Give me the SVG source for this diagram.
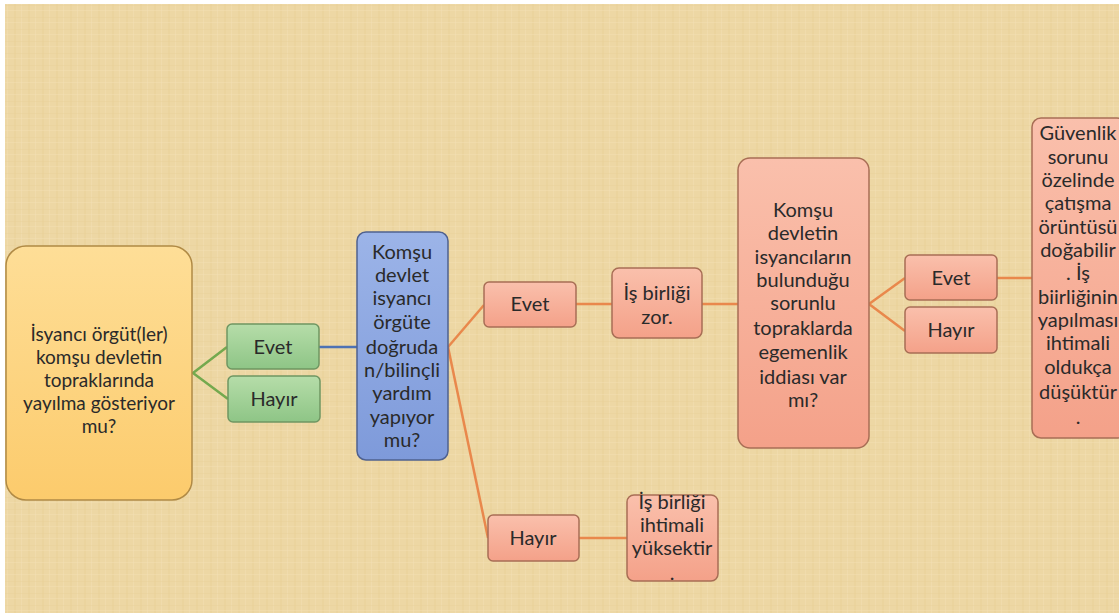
<svg xmlns="http://www.w3.org/2000/svg" width="1119" height="615" viewBox="0 0 1119 615">
<defs>
<linearGradient id="gY" x1="0" y1="0" x2="0" y2="1"><stop offset="0" stop-color="#FEDE97"/><stop offset="1" stop-color="#FCCB6C"/></linearGradient>
<linearGradient id="gG" x1="0" y1="0" x2="0" y2="1"><stop offset="0" stop-color="#B6DDA9"/><stop offset="1" stop-color="#8EC586"/></linearGradient>
<linearGradient id="gB" x1="0" y1="0" x2="0" y2="1"><stop offset="0" stop-color="#9CB4E8"/><stop offset="1" stop-color="#7E9ADA"/></linearGradient>
<linearGradient id="gR" x1="0" y1="0" x2="0" y2="1"><stop offset="0" stop-color="#FAC0AC"/><stop offset="1" stop-color="#F4A189"/></linearGradient>
<pattern id="weave" width="14" height="12" patternUnits="userSpaceOnUse">
<rect width="14" height="12" fill="#ECD59F"/>
<rect x="0" y="0" width="2" height="12" fill="#E3C88A" opacity="0.4"/>
<rect x="7" y="0" width="1" height="12" fill="#F4E2B8" opacity="0.5"/>
<rect x="0" y="5" width="14" height="1" fill="#E0C585" opacity="0.35"/>
<rect x="0" y="10" width="14" height="1" fill="#F5E4BC" opacity="0.4"/>
</pattern>
</defs>
<style>
.t{font-family:Lato,"Liberation Sans",sans-serif;font-size:20px;fill:#2a2a2a;text-anchor:middle;}
.s{font-size:19px;}
.ny{fill:url(#gY);stroke:#B08A45;stroke-width:1.5;}
.ng{fill:url(#gG);stroke:#6F9662;stroke-width:1.5;}
.nb{fill:url(#gB);stroke:#4F618F;stroke-width:1.5;}
.nr{fill:url(#gR);stroke:#A86E55;stroke-width:1.5;}
.cg{stroke:#74A94E;stroke-width:2.5;fill:none;}
.cb{stroke:#4E72B4;stroke-width:2.5;fill:none;}
.co{stroke:#E9884C;stroke-width:2.5;fill:none;}
</style>
<rect width="1119" height="615" fill="#FFFFFF"/>
<rect x="5" y="4" width="1114" height="609" fill="url(#weave)"/>
<rect x="5" y="4" width="1114" height="609" fill="#F0DDAE" opacity="0.35"/>

<g id="connectors">
<polyline class="cg" points="227,347 193,373 228,399"/>
<line class="cb" x1="319" y1="347" x2="357" y2="347"/>
<line class="co" x1="448" y1="347" x2="484" y2="305"/>
<line class="co" x1="448" y1="347" x2="488" y2="538"/>
<line class="co" x1="576" y1="304" x2="612" y2="304"/>
<line class="co" x1="702" y1="304" x2="738" y2="304"/>
<polyline class="co" points="905,278 869,304 905,331"/>
<line class="co" x1="997" y1="278" x2="1032" y2="278"/>
<line class="co" x1="579" y1="538" x2="627" y2="538"/>
</g>

<g id="n1">
<rect class="ny" x="6" y="246" width="186" height="254" rx="20"/>
<text class="t s" x="99" y="341">İsyancı örgüt(ler)</text>
<text class="t s" x="99" y="364">komşu devletin</text>
<text class="t s" x="99" y="387">topraklarında</text>
<text class="t s" x="99" y="410">yayılma gösteriyor</text>
<text class="t s" x="99" y="433">mu?</text>
</g>
<g id="n2">
<rect class="ng" x="227" y="324" width="92" height="45" rx="5"/>
<text class="t" x="273" y="354">Evet</text>
</g>
<g id="n3">
<rect class="ng" x="228" y="376" width="92" height="46" rx="5"/>
<text class="t" x="274" y="406">Hayır</text>
</g>
<g id="n4">
<rect class="nb" x="357" y="232" width="91" height="228" rx="9"/>
<text class="t" x="402" y="259">Komşu</text>
<text class="t" x="402" y="282">devlet</text>
<text class="t" x="402" y="305">isyancı</text>
<text class="t" x="402" y="329">örgüte</text>
<text class="t" x="402" y="354">doğruda</text>
<text class="t" x="402" y="377">n/bilinçli</text>
<text class="t" x="402" y="400">yardım</text>
<text class="t" x="402" y="424">yapıyor</text>
<text class="t" x="402" y="447">mu?</text>
</g>
<g id="n5">
<rect class="nr" x="484" y="282" width="92" height="45" rx="5"/>
<text class="t" x="530" y="311">Evet</text>
</g>
<g id="n6">
<rect class="nr" x="612" y="268" width="90" height="70" rx="7"/>
<text class="t" x="657" y="300">İş birliği</text>
<text class="t" x="657" y="324">zor.</text>
</g>
<g id="n7">
<rect class="nr" x="738" y="158" width="131" height="290" rx="12"/>
<text class="t" x="803" y="217">Komşu</text>
<text class="t" x="803" y="240">devletin</text>
<text class="t" x="803" y="264">isyancıların</text>
<text class="t" x="803" y="287">bulunduğu</text>
<text class="t" x="803" y="310">sorunlu</text>
<text class="t" x="803" y="335">topraklarda</text>
<text class="t" x="803" y="359">egemenlik</text>
<text class="t" x="803" y="384">iddiası var</text>
<text class="t" x="803" y="407">mı?</text>
</g>
<g id="n8">
<rect class="nr" x="905" y="255" width="92" height="45" rx="5"/>
<text class="t" x="951" y="285">Evet</text>
</g>
<g id="n9">
<rect class="nr" x="905" y="307" width="92" height="46" rx="5"/>
<text class="t" x="951" y="337">Hayır</text>
</g>
<g id="n10">
<rect class="nr" x="1032" y="118" width="94" height="320" rx="9"/>
<text class="t" x="1078" y="140">Güvenlik</text>
<text class="t" x="1078" y="164">sorunu</text>
<text class="t" x="1078" y="187">özelinde</text>
<text class="t" x="1078" y="210">çatışma</text>
<text class="t" x="1078" y="234">örüntüsü</text>
<text class="t" x="1078" y="257">doğabilir</text>
<text class="t" x="1078" y="280">. İş</text>
<text class="t" x="1078" y="304">biirliğinin</text>
<text class="t" x="1078" y="327">yapılması</text>
<text class="t" x="1078" y="350">ihtimali</text>
<text class="t" x="1078" y="374">oldukça</text>
<text class="t" x="1078" y="399">düşüktür</text>
<text class="t" x="1078" y="424">.</text>
</g>
<g id="n11">
<rect class="nr" x="488" y="515" width="91" height="46" rx="5"/>
<text class="t" x="533" y="545">Hayır</text>
</g>
<g id="n12">
<rect class="nr" x="627" y="495" width="91" height="86" rx="7"/>
<text class="t" x="672" y="509">İş birliği</text>
<text class="t" x="672" y="532">ihtimali</text>
<text class="t" x="672" y="555">yüksektir</text>
<text class="t" x="672" y="580">.</text>
</g>
</svg>
